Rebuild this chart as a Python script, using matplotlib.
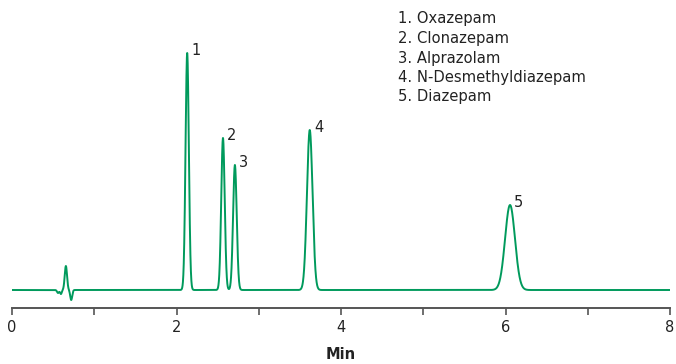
import numpy as np
import matplotlib
matplotlib.use("Agg")
import matplotlib.pyplot as plt

# Peak table
peak_labels = ["1", "2", "3", "4", "5"]
compounds = ["Oxazepam", "Clonazepam", "Alprazolam", "N-Desmethyldiazepam", "Diazepam"]
retention = [2.13, 2.565, 2.71, 3.62, 6.055]      # min
heights = [237, 152, 125, 160, 85]                 # detector response (a.u.)
widths = [0.020, 0.021, 0.022, 0.034, 0.060]       # peak sigma (min)

# Injection disturbance near the solvent front
dist_times = [0.56, 0.595, 0.655, 0.72]
dist_heights = [-3, -4, 24, -10]
dist_widths = [0.012, 0.010, 0.014, 0.012]

x_ticks = [0, 1, 2, 3, 4, 5, 6, 7, 8]
x_ticklabels = ["0", "", "2", "", "4", "", "6", "", "8"]

t = np.linspace(0, 8, 8001)
signal = np.zeros_like(t)
for rt, h, w in zip(retention + dist_times, heights + dist_heights, widths + dist_widths):
    signal += h * np.exp(-0.5 * ((t - rt) / w) ** 2)

W, H = 676, 364
fig = plt.figure(figsize=(W / 100, H / 100), dpi=100)
ax = fig.add_axes([12 / W, (H - 308) / H, (670 - 12) / W, (308 - 5) / H])

color = "#009a5c"
ax.plot(t, signal, color=color, lw=1.4, solid_joinstyle="round")
ax.set_xlim(0, 8)
ax.set_ylim(-18, 285)

for s in ["top", "right", "left"]:
    ax.spines[s].set_visible(False)
ax.spines["bottom"].set_color("#555555")
ax.spines["bottom"].set_linewidth(1.4)
ax.set_yticks([])
ax.set_xticks(x_ticks)
ax.set_xticklabels(x_ticklabels)
ax.tick_params(axis="x", direction="out", length=5, width=1.2, color="#555555",
               labelsize=10.5, labelcolor="#222222", pad=4)
ax.set_xlabel("Min", fontsize=10.5, fontweight="bold", color="#222222", labelpad=8)

for lab, rt, h in zip(peak_labels, retention, heights):
    ax.annotate(lab, xy=(rt, h), xytext=(3, 2), textcoords="offset points",
                fontsize=10.5, color="#222222", ha="left", va="center")

legend_lines = [f"{l}. {c}" for l, c in zip(peak_labels, compounds)]
for i, line in enumerate(legend_lines):
    fig.text(398 / W, 1 - (19 + i * 19.5) / H, line, fontsize=10.6, color="#222222",
             ha="left", va="center")

fig.savefig("out.png", dpi=100)
